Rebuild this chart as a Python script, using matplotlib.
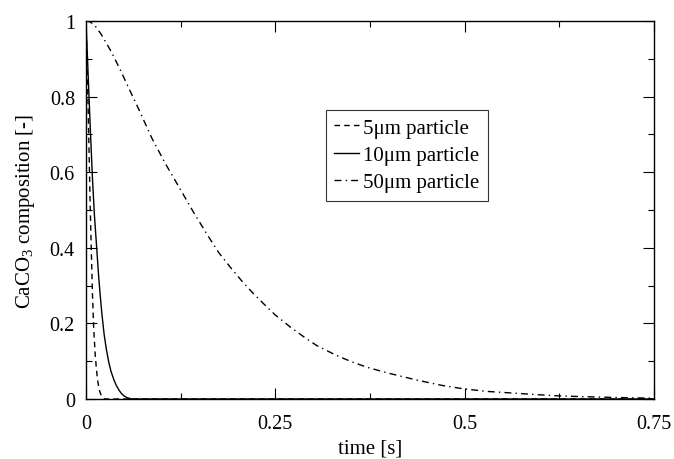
import numpy as np
import matplotlib
matplotlib.use("Agg")
import matplotlib.pyplot as plt

plt.rcParams['font.family'] = ['Liberation Serif', 'DejaVu Serif']
plt.rcParams['mathtext.fontset'] = 'custom'
plt.rcParams['mathtext.rm'] = 'Liberation Serif'
plt.rcParams['mathtext.it'] = 'Liberation Serif:italic'

# values
t_5um = [0, 0.0013, 0.0026, 0.004, 0.0053, 0.0068, 0.0085, 0.010, 0.0119, 0.0135,
         0.015, 0.0165, 0.018, 0.0198, 0.0215, 0.023, 0.025, 0.75]
x_5um = [1, 0.895, 0.79, 0.66, 0.53, 0.41, 0.28, 0.195, 0.125, 0.085,
         0.055, 0.035, 0.021, 0.011, 0.005, 0.002, 0, 0]

t_10um = [0, 0.002, 0.004, 0.006, 0.0085, 0.011, 0.0141, 0.0165, 0.0185, 0.021,
          0.024, 0.027, 0.030, 0.033, 0.037, 0.040, 0.044, 0.047, 0.051, 0.054,
          0.058, 0.062, 0.75]
x_10um = [1, 0.90, 0.80, 0.70, 0.585, 0.49, 0.40, 0.33, 0.28, 0.225,
          0.17, 0.13, 0.098, 0.073, 0.05, 0.036, 0.022, 0.014, 0.007, 0.004,
          0.001, 0, 0]

t_50um = [0, 0.005, 0.011, 0.02, 0.033, 0.045, 0.057, 0.07, 0.087, 0.105,
          0.123, 0.142, 0.16, 0.175, 0.19, 0.205, 0.22, 0.234, 0.25, 0.27,
          0.29, 0.305, 0.33, 0.35, 0.371, 0.40, 0.437, 0.47, 0.498, 0.53,
          0.569, 0.6, 0.626, 0.66, 0.70, 0.75]
x_50um = [1.0, 0.998, 0.99, 0.965, 0.92, 0.872, 0.82, 0.765, 0.69, 0.622,
          0.56, 0.494, 0.435, 0.388, 0.35, 0.314, 0.281, 0.253, 0.222, 0.19,
          0.161, 0.141, 0.116, 0.099, 0.084, 0.068, 0.05, 0.036, 0.027, 0.02,
          0.015, 0.011, 0.008, 0.006, 0.004, 0.002]

labels = ['5\u03bcm particle', '10\u03bcm particle', '50\u03bcm particle']
xticks = [0, 0.25, 0.5, 0.75]
xtick_labels = ['0', '0.25', '0.5', '0.75']
yticks = [0, 0.2, 0.4, 0.6, 0.8, 1.0]
ytick_labels = ['0', '0.2', '0.4', '0.6', '0.8', '1']

fig = plt.figure(figsize=(6.74, 4.6), dpi=100)
ax = fig.add_axes([86 / 674, 60 / 460, 568 / 674, 378 / 460])

ax.plot(t_5um, x_5um, color='black', lw=1.0, linestyle=(0, (4, 3)), label=labels[0])
ax.plot(t_10um, x_10um, color='black', lw=1.0, linestyle='-', label=labels[1])
ax.plot(t_50um, x_50um, color='black', lw=1.0,
        linestyle=(0, (5, 3, 1, 3)), label=labels[2])

ax.set_xlim(0, 0.75)
ax.set_ylim(0, 1)
ax.set_xticks(xticks)
ax.set_xticklabels(xtick_labels)
ax.set_yticks(yticks)
ax.set_yticklabels(ytick_labels)
ax.set_xticks(np.arange(0.125, 0.75, 0.25), minor=True)
ax.set_yticks(np.arange(0.1, 1.0, 0.2), minor=True)
ax.tick_params(which='both', direction='in', top=True, right=True, labelsize=14.5)
ax.tick_params(axis='x', which='major', length=8, width=0.8, pad=11)
ax.tick_params(axis='y', which='major', length=8, width=0.8, pad=8)
ax.tick_params(which='minor', length=4, width=0.8)
for s in ax.spines.values():
    s.set_linewidth(1.0)

ax.set_xlabel('time [s]', fontsize=15, labelpad=4)
ax.set_ylabel('CaCO$_3$ composition [-]', fontsize=15, labelpad=9)

leg = ax.legend(loc='upper left', bbox_to_anchor=(0.4225, 0.765), fontsize=15,
                frameon=True, fancybox=False, edgecolor='black', handlelength=1.2,
                handletextpad=0.2, borderpad=0.4, labelspacing=0.37, borderaxespad=0)
leg.get_frame().set_linewidth(0.8)

fig.savefig('out.png', dpi=100)
